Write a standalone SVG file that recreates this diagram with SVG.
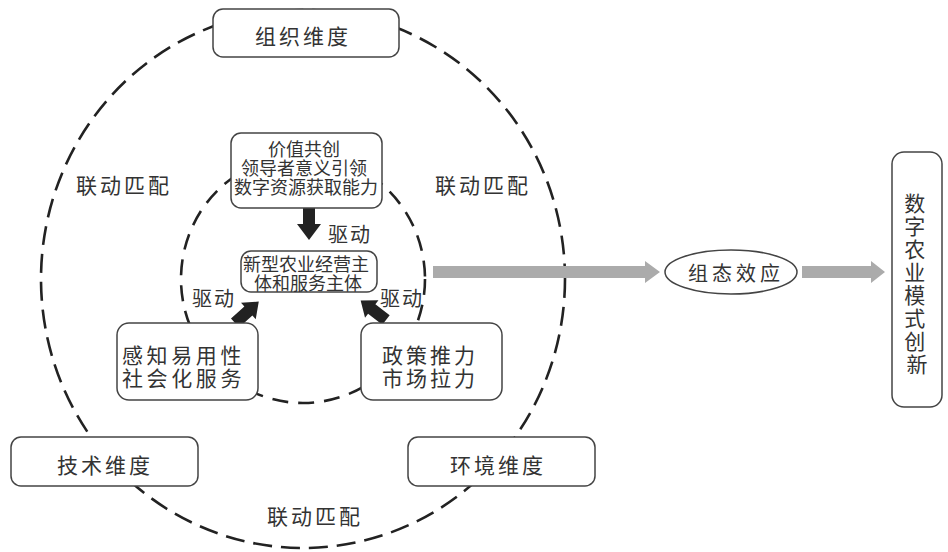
<svg xmlns="http://www.w3.org/2000/svg" width="948" height="552" viewBox="0 0 948 552">
<style>
.bg{fill:#fff}
.box{fill:#fff;stroke:#444;stroke-width:1.5}
.t{font-family:"Noto Sans CJK SC","Noto Sans CJK JP",sans-serif;fill:#333;dominant-baseline:central}
.ring{fill:none;stroke:#222;stroke-width:2.6}
.blk{fill:#222}
.gry{fill:#ababab}
</style>
<rect class="bg" x="0" y="0" width="948" height="552"/>
<g id="rings">
<ellipse class="ring" cx="303" cy="279" rx="262" ry="269" stroke-dasharray="19 9"/>
<ellipse class="ring" cx="303" cy="279" rx="122" ry="124" stroke-dasharray="16 10"/>
</g>
<g id="labels">
<text class="t" x="76" y="184" font-size="21" letter-spacing="3">联动匹配</text>
<text class="t" x="435" y="184" font-size="21" letter-spacing="3">联动匹配</text>
<text class="t" x="267" y="515" font-size="21" letter-spacing="3">联动匹配</text>
<text class="t" x="328" y="233" font-size="20" letter-spacing="2">驱动</text>
<text class="t" x="192" y="297" font-size="20" letter-spacing="2">驱动</text>
<text class="t" x="380" y="297" font-size="20" letter-spacing="2">驱动</text>
</g>
<g id="connectors">
<polygon class="blk" points="303,208 315,208 315,224 321,224 309,240 297,224 303,224"/>
<polygon class="blk" transform="translate(235,323) rotate(-42)" points="0,-6 18,-6 18,-11 32,0 18,11 18,6 0,6"/>
<polygon class="blk" transform="translate(386,320) rotate(-142.4)" points="0,-6 18,-6 18,-11 32,0 18,11 18,6 0,6"/>
<polygon class="gry" points="433,266 645,266 645,261 660,272 645,283 645,278 433,278"/>
<polygon class="gry" points="802,266 871,266 871,261 885,272 871,283 871,278 802,278"/>
</g>
<g id="org">
<rect class="box" x="213" y="9" width="186" height="48" rx="10"/>
<text class="t" x="255" y="35" font-size="21" letter-spacing="3">组织维度</text>
</g>
<g id="tech">
<rect class="box" x="11" y="437" width="187" height="49" rx="10"/>
<text class="t" x="57" y="464" font-size="21" letter-spacing="3">技术维度</text>
</g>
<g id="env">
<rect class="box" x="408" y="437" width="187" height="49" rx="10"/>
<text class="t" x="450" y="464" font-size="21" letter-spacing="3">环境维度</text>
</g>
<g id="value">
<rect class="box" x="231" y="133" width="151" height="75" rx="10"/>
<text class="t" font-size="18" text-anchor="middle">
<tspan x="306" y="148">价值共创</tspan>
<tspan x="306" y="167">领导者意义引领</tspan>
<tspan x="306" y="186">数字资源获取能力</tspan>
</text>
</g>
<g id="subject">
<rect class="box" x="241" y="251" width="136" height="41" rx="10"/>
<text class="t" font-size="18" text-anchor="middle">
<tspan x="308" y="263">新型农业经营主</tspan>
<tspan x="308" y="282">体和服务主体</tspan>
</text>
</g>
<g id="perceive">
<rect class="box" x="117" y="323" width="141" height="77" rx="12"/>
<text class="t" font-size="21" letter-spacing="3.6">
<tspan x="122" y="354">感知易用性</tspan>
<tspan x="122" y="377">社会化服务</tspan>
</text>
</g>
<g id="policy">
<rect class="box" x="361" y="323" width="141" height="77" rx="12"/>
<text class="t" font-size="21" letter-spacing="3">
<tspan x="382" y="354">政策推力</tspan>
<tspan x="382" y="377">市场拉力</tspan>
</text>
</g>
<g id="effect">
<ellipse class="box" cx="731" cy="272" rx="66" ry="22"/>
<text class="t" x="688" y="272" font-size="20" letter-spacing="4">组态效应</text>
</g>
<g id="innovation">
<rect class="box" x="892" y="152" width="50" height="255" rx="12"/>
<text class="t" font-size="21" text-anchor="middle">
<tspan x="917" y="202">数</tspan>
<tspan x="917" y="225">字</tspan>
<tspan x="917" y="248">农</tspan>
<tspan x="917" y="271">业</tspan>
<tspan x="917" y="294">模</tspan>
<tspan x="917" y="317">式</tspan>
<tspan x="917" y="340">创</tspan>
<tspan x="917" y="363">新</tspan>
</text>
</g>
</svg>
